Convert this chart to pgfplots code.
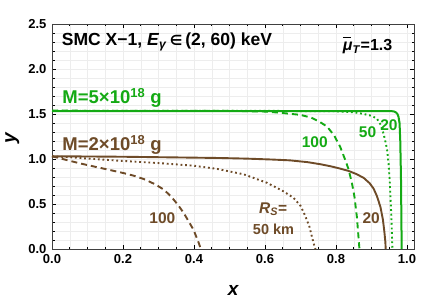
\documentclass[border=0pt]{standalone}
\usepackage{pgfplots}
\pgfplotsset{compat=1.18}
\usepackage{fontspec}
\setmainfont{Liberation Sans}
\newfontfamily\dejavu{DejaVu Sans}
\definecolor{mgreen}{RGB}{20,170,20}
\definecolor{mbrown}{RGB}{110,75,40}
\newcommand{\fs}[1]{\fontsize{#1}{#1}\selectfont\bfseries}
\begin{document}
\begin{tikzpicture}
\begin{axis}[
  at={(0,0)}, anchor=south west,
  scale only axis, width=362pt, height=225pt,
  xmin=0, xmax=1.0197, ymin=0, ymax=2.5,
  xtick={0,0.2,0.4,0.6,0.8,1.0},
  ytick={0,0.5,1.0,1.5,2.0,2.5},
  minor x tick num=3, minor y tick num=4,
  grid=both,
  major grid style={gray!14, line width=0.4pt},
  minor grid style={gray!14, line width=0.4pt},
  tick align=inside,
  major tick length=4pt, minor tick length=2.5pt,
  tick style={black, line width=0.6pt},
  axis line style={black!75, line width=0.8pt},
  xticklabel style={font=\fs{13}, yshift=-2pt},
  yticklabel style={font=\fs{13}, xshift=-2pt},
  /pgf/number format/assume math mode=true,
  xticklabel={\pgfmathprintnumber[fixed,fixed zerofill,precision=1]{\tick}},
  yticklabel={\pgfmathprintnumber[fixed,fixed zerofill,precision=1]{\tick}},
  clip=false,
]
% green M=5e18
\addplot[mgreen, line width=2pt] coordinates {
(0,1.532)(0.5,1.532)(0.9,1.532)(0.95,1.532)(0.962,1.53)(0.968,1.52)(0.973,1.5)(0.976,1.47)(0.979,1.4)(0.981,1.2)(0.983,0.8)(0.984,0.4)(0.985,0)};
\addplot[mgreen, line width=1.9pt, dash pattern=on 1.8pt off 2.8pt] coordinates {
(0,1.535)(0.6,1.535)(0.8,1.53)(0.85,1.52)(0.878,1.5)(0.9,1.48)(0.915,1.45)(0.926,1.38)(0.934,1.28)(0.94,1.18)(0.944,1.1)(0.948,0.95)(0.951,0.78)(0.953,0.615)(0.956,0.35)(0.958,0.1)(0.959,0)};
\addplot[mgreen, line width=1.9pt, dash pattern=on 6pt off 4pt] coordinates {
(0,1.537)(0.5,1.535)(0.6,1.527)(0.64,1.515)(0.7,1.49)(0.73,1.46)(0.755,1.41)(0.775,1.36)(0.795,1.26)(0.812,1.133)(0.825,1.0)(0.835,0.89)(0.845,0.73)(0.852,0.58)(0.859,0.35)(0.863,0.15)(0.866,0)};
% brown M=2e18
\addplot[mbrown, line width=1.9pt] coordinates {
(0,1.03)(0.1,1.028)(0.2,1.025)(0.3,1.02)(0.4,1.015)(0.474,1.011)(0.55,1.004)(0.62,0.994)(0.67,0.985)(0.72,0.965)(0.756,0.942)(0.784,0.92)(0.81,0.895)(0.835,0.868)(0.858,0.832)(0.878,0.79)(0.895,0.73)(0.906,0.67)(0.915,0.59)(0.925,0.47)(0.932,0.33)(0.936,0.2)(0.939,0.08)(0.94,0)};
\addplot[mbrown, line width=1.9pt, dash pattern=on 1.8pt off 2.8pt] coordinates {
(0,1.03)(0.05,1.02)(0.1,1.005)(0.2,0.978)(0.3,0.955)(0.4,0.925)(0.465,0.89)(0.54,0.83)(0.606,0.735)(0.65,0.645)(0.68,0.57)(0.70,0.48)(0.713,0.37)(0.725,0.25)(0.732,0.14)(0.738,0.05)(0.742,0)};
\addplot[mbrown, line width=1.9pt, dash pattern=on 6pt off 4pt] coordinates {
(0,1.03)(0.02,1.01)(0.05,0.98)(0.08,0.95)(0.12,0.915)(0.155,0.885)(0.2,0.845)(0.23,0.815)(0.26,0.775)(0.29,0.72)(0.315,0.66)(0.335,0.585)(0.355,0.49)(0.371,0.40)(0.386,0.3)(0.399,0.21)(0.408,0.12)(0.415,0.05)(0.419,0)};
% labels
\node[anchor=west, font=\fs{17.5}] at (axis cs:0.018,2.30) {SMC X−1, \textit{E}\textsubscript{\textit{γ}}\,{\dejavu\fontsize{14}{14}\selectfont∈}\,(2, 60) keV};
\node[font=\fs{16}] at (axis cs:0.889,2.26) {\rlap{\rule[0.8em]{0.5em}{1pt}}\textit{μ}\textsubscript{\textit{T}}=1.3};
\node[anchor=base west, font=\fs{18.5}, text=mgreen, inner sep=0pt] at (axis cs:0.029,1.618) {M=5×10\textsuperscript{18} g};
\node[anchor=base west, font=\fs{18.5}, text=mbrown, inner sep=0pt] at (axis cs:0.029,1.09) {M=2×10\textsuperscript{18} g};
\node[font=\fs{15.5}, text=mgreen] at (axis cs:0.74,1.19) {100};
\node[font=\fs{15.5}, text=mgreen] at (axis cs:0.889,1.297) {50};
\node[font=\fs{15.5}, text=mgreen] at (axis cs:0.949,1.378) {20};
\node[font=\fs{15.5}, text=mbrown] at (axis cs:0.899,0.338) {20};
\node[font=\fs{15.5}, text=mbrown] at (axis cs:0.311,0.338) {100};
\node[font=\fs{15.5}, text=mbrown] at (axis cs:0.623,0.444) {\textit{R}\textsubscript{\textit{S}}=};
\node[font=\fs{14.5}, text=mbrown] at (axis cs:0.624,0.222) {50 km};
\node[font=\fs{19}] at (axis cs:0.511,-0.46) {\textit{x}};
\node[font=\fs{19}, rotate=90] at (axis cs:-0.112,1.24) {\textit{y}};
\end{axis}
\pgfresetboundingbox
\path[use as bounding box] (-52pt,-51pt) rectangle (387pt,249pt);
\end{tikzpicture}
\end{document}
